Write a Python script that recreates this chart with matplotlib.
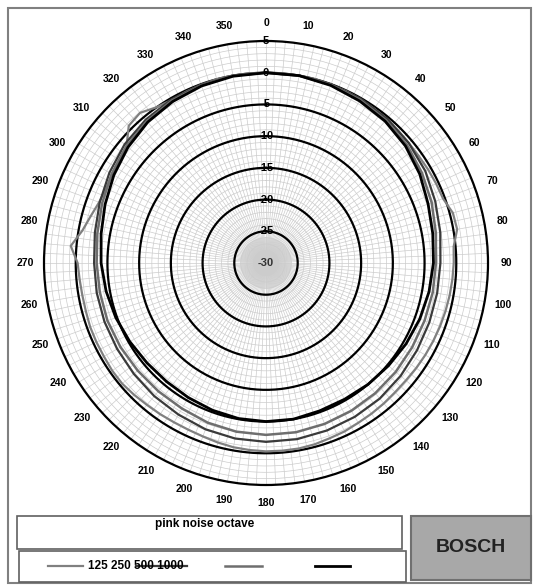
import numpy as np
import matplotlib
matplotlib.use('Agg')
import matplotlib.pyplot as plt
from matplotlib.patches import Rectangle
from matplotlib.lines import Line2D

plt.rcParams['font.family'] = ['Liberation Sans', 'DejaVu Sans']

# ---- data (dB) ----
freqs = ['125', '250', '500', '1000']

ang5 = list(range(0, 360, 5))
db_125 = [0, 0, 0, 0, -0.1, -0.1, -0.2, -0.3, -0.4, -0.5, -0.6, -0.6,
          -0.5, -0.4, -0.3, 0.5, 0.6, -0.3, -0.4, -0.5, -0.6, -0.7, -0.8, -0.9,
          -1.0, -1.1, -1.2, -1.2, -1.1, -1.0, -0.9, -0.7, -0.6, -0.4, -0.3, -0.3,
          -0.3, -0.4, -0.5, -0.7, -0.9, -1.0, -1.0, -0.9, -0.8, -0.6, -0.4, -0.4,
          -0.5, -0.5, -0.5, -0.6, -0.6, -0.5, -0.3, 0.9, -0.6, -1.4, -2.0, -2.2,
          -2.0, -1.7, -1.3, 0.6, 0.9, 0.0, -0.3, -0.2, -0.1, 0, 0, 0]

ang10 = list(range(0, 360, 10))
db_250 = [0, 0, 0, -0.1, -0.3, -0.6, -1.0, -1.6, -2.1, -2.5, -2.6, -2.6,
          -2.5, -2.3, -2.1, -2.0, -1.9, -1.8, -1.8, -1.9, -2.1, -2.4, -2.6, -2.8,
          -2.9, -2.9, -2.9, -2.9, -2.6, -2.1, -1.5, -0.9, -0.5, -0.2, -0.1, 0]
db_500 = [0, 0, -0.1, -0.3, -0.6, -1.0, -1.6, -2.2, -2.8, -3.2, -3.3, -3.4,
          -3.4, -3.3, -3.2, -3.1, -3.0, -2.9, -2.9, -3.0, -3.2, -3.5, -3.6, -3.6,
          -3.5, -3.4, -3.4, -3.3, -3.0, -2.5, -1.9, -1.3, -0.8, -0.4, -0.2, 0]
db_1000 = [0, 0, -0.2, -0.5, -0.8, -1.3, -2.0, -2.8, -3.3, -3.6, -3.9, -4.2,
           -4.5, -4.8, -5.0, -5.2, -5.2, -5.0, -5.0, -5.1, -5.3, -5.5, -5.6, -5.5,
           -5.2, -4.8, -4.4, -4.0, -3.6, -3.0, -2.3, -1.6, -1.0, -0.6, -0.3, -0.1]

rings = [5, 0, -5, -10, -15, -20, -25, -30]
angle_labels = list(range(0, 360, 10))


def closed(angles, vals):
    a = np.deg2rad(np.append(angles, angles[0]))
    v = np.append(vals, vals[0])
    return a, v


W, H = 539, 587
fig = plt.figure(figsize=(W / 100, H / 100), dpi=100)


def box(x0, y0, x1, y1):
    return [x0 / W, 1 - y1 / H, (x1 - x0) / W, (y1 - y0) / H]


# outer frame
fig.add_artist(Rectangle((8 / W, 1 - 583 / H), 523 / W, 575 / H, transform=fig.transFigure,
                         fill=False, ec='#808080', lw=1.5))

cx, cy, R = 266, 263, 222
ax = fig.add_axes(box(cx - R, cy - R, cx + R, cy + R), projection='polar')
ax.set_theta_zero_location('N')
ax.set_theta_direction(-1)
ax.set_ylim(-30, 5)
ax.set_xticks([])
ax.set_yticks([])
ax.grid(False)
ax.spines['polar'].set_linewidth(1.6)
ax.spines['polar'].set_color('black')

th = np.linspace(0, 2 * np.pi, 400)
# centre shading
ax.fill(th, np.full_like(th, -26.0), color='#e0e0e0', lw=0, zorder=0)
ax.fill(th, np.full_like(th, -28.0), color='#cfcfcf', lw=0, zorder=0)

# fine grid
for r in range(-29, 5):
    ax.plot(th, np.full_like(th, r), color='#cccccc', lw=0.5, zorder=1)
for a in np.arange(0, 360, 2.5):
    ax.plot([np.deg2rad(a)] * 2, [-30, 5], color='#cccccc', lw=0.5, zorder=1)

# main rings
for r in rings[1:-1]:
    ax.plot(th, np.full_like(th, r), color='black', lw=1.6, zorder=2)

# data
a, v = closed(ang5, db_125)
ax.plot(a, v, color='#808080', lw=1.6, zorder=3)
a, v = closed(ang10, db_250)
ax.plot(a, v, color='#3a3a3a', lw=1.6, zorder=3)
a, v = closed(ang10, db_500)
ax.plot(a, v, color='#6e6e6e', lw=1.8, zorder=3)
a, v = closed(ang10, db_1000)
ax.plot(a, v, color='black', lw=2.0, zorder=4)

# ring labels
for r in rings:
    ax.text(0, r, str(r), ha='center', va='center', fontsize=8,
            fontweight='bold', color='#333333' if r == -30 else 'black', zorder=5)

# angle labels
for ang in angle_labels:
    ax.text(np.deg2rad(ang), 7.9, str(ang), ha='center', va='center',
            fontsize=7.5, fontweight='bold')

# title box
fig.add_artist(Rectangle((17 / W, 1 - 549 / H), 385 / W, 33 / H, transform=fig.transFigure,
                         fill=False, ec='#606060', lw=1.2))
fig.text(205 / W, 1 - 524 / H, 'pink noise octave', ha='center', va='center',
         fontsize=8.5, fontweight='bold')

# legend box
fig.add_artist(Rectangle((19 / W, 1 - 582 / H), 387 / W, 31 / H, transform=fig.transFigure,
                         fill=False, ec='#606060', lw=1.2))
ly = 1 - 566 / H
fig.add_artist(Line2D([48 / W, 83 / W], [ly, ly], color='#808080', lw=1.6))
fig.text(88 / W, ly, ' '.join(freqs), ha='left', va='center', fontsize=8.5,
         fontweight='bold')
fig.add_artist(Line2D([136 / W, 187 / W], [ly, ly], color='#3a3a3a', lw=1.6))
fig.add_artist(Line2D([225 / W, 262 / W], [ly, ly], color='#6e6e6e', lw=1.8))
fig.add_artist(Line2D([315 / W, 350 / W], [ly, ly], color='black', lw=2.0))

# logo box
fig.add_artist(Rectangle((411 / W, 1 - 580 / H), 120 / W, 64 / H, transform=fig.transFigure,
                         fc='#a8a8a8', ec='#707070', lw=1.5))
fig.text(471 / W, 1 - 547 / H, 'BOSCH', ha='center', va='center',
         fontsize=14, fontweight='bold', color='#222222')

fig.savefig('out.png', dpi=100)
